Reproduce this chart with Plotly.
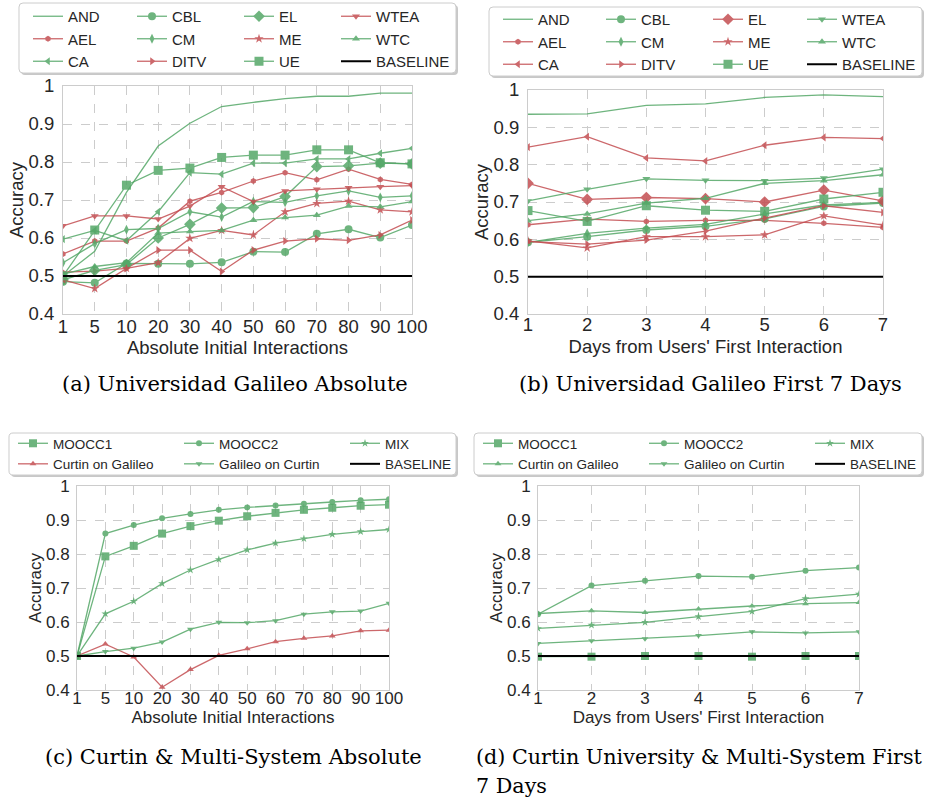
import plotly.graph_objects as go

W, H = 928, 800
SANS = "Liberation Sans"
SERIF = "DejaVu Serif"
GREEN = "#55a868"
RED = "#c44e52"

# ---------------- data ----------------
ABS_X = ["1", "5", "10", "20", "30", "40", "50", "60", "70", "80", "90", "100"]
DAY_X = [1, 2, 3, 4, 5, 6, 7]
BASELINE = 0.5
Y_TICKS = [0.4, 0.5, 0.6, 0.7, 0.8, 0.9, 1.0]

# (a) Universidad Galileo Absolute
AND_A = [0.500, 0.565, 0.720, 0.842, 0.902, 0.946, 0.957, 0.967, 0.973, 0.973, 0.981, 0.981]
AEL_A = [0.558, 0.592, 0.592, 0.626, 0.697, 0.720, 0.750, 0.772, 0.753, 0.781, 0.754, 0.741]
CA_A = [0.597, 0.620, 0.593, 0.669, 0.772, 0.768, 0.797, 0.797, 0.808, 0.808, 0.823, 0.836]
CBL_A = [0.485, 0.482, 0.533, 0.532, 0.532, 0.536, 0.564, 0.563, 0.611, 0.623, 0.601, 0.634]
CM_A = [0.535, 0.585, 0.622, 0.625, 0.669, 0.655, 0.696, 0.694, 0.711, 0.724, 0.707, 0.711]
DITV_A = [0.510, 0.513, 0.520, 0.568, 0.568, 0.512, 0.568, 0.592, 0.598, 0.594, 0.608, 0.647]
EL_A = [0.490, 0.515, 0.530, 0.600, 0.636, 0.679, 0.680, 0.709, 0.788, 0.790, 0.797, 0.795]
ME_A = [0.490, 0.467, 0.520, 0.535, 0.599, 0.620, 0.608, 0.669, 0.691, 0.697, 0.674, 0.669]
UE_A = [0.500, 0.621, 0.739, 0.778, 0.784, 0.812, 0.818, 0.818, 0.832, 0.832, 0.798, 0.795]
WTEA_A = [0.632, 0.658, 0.658, 0.650, 0.684, 0.735, 0.696, 0.724, 0.728, 0.732, 0.735, 0.738]
WTC_A = [0.505, 0.525, 0.535, 0.613, 0.617, 0.620, 0.647, 0.654, 0.660, 0.684, 0.682, 0.696]

# (b) Universidad Galileo First 7 Days
AND_B = [0.935, 0.936, 0.959, 0.963, 0.980, 0.987, 0.982]
AEL_B = [0.639, 0.654, 0.648, 0.651, 0.651, 0.643, 0.632]
CA_B = [0.847, 0.875, 0.818, 0.810, 0.852, 0.873, 0.870]
CBL_B = [0.592, 0.607, 0.625, 0.635, 0.655, 0.688, 0.697]
CM_B = [0.592, 0.616, 0.630, 0.640, 0.668, 0.692, 0.699]
DITV_B = [0.594, 0.587, 0.598, 0.622, 0.657, 0.690, 0.672]
EL_B = [0.750, 0.707, 0.712, 0.709, 0.700, 0.732, 0.703]
ME_B = [0.596, 0.577, 0.607, 0.607, 0.612, 0.663, 0.638]
UE_B = [0.677, 0.648, 0.690, 0.678, 0.675, 0.708, 0.726]
WTEA_B = [0.703, 0.734, 0.762, 0.758, 0.757, 0.764, 0.788]
WTC_B = [0.650, 0.668, 0.697, 0.710, 0.750, 0.757, 0.773]

# (c) Curtin & Multi-System Absolute
MOOCC1_C = [0.500, 0.793, 0.824, 0.860, 0.882, 0.898, 0.911, 0.921, 0.930, 0.936, 0.942, 0.945]
MOOCC2_C = [0.500, 0.860, 0.885, 0.905, 0.918, 0.930, 0.937, 0.943, 0.948, 0.953, 0.958, 0.961]
MIX_C = [0.500, 0.624, 0.661, 0.713, 0.753, 0.784, 0.812, 0.832, 0.845, 0.858, 0.866, 0.872]
COG_C = [0.500, 0.535, 0.497, 0.408, 0.460, 0.502, 0.521, 0.542, 0.552, 0.559, 0.574, 0.576]
GOC_C = [0.500, 0.513, 0.523, 0.541, 0.579, 0.599, 0.598, 0.604, 0.623, 0.630, 0.632, 0.655]

# (d) Curtin University & Multi-System First 7 Days
MOOCC1_D = [0.498, 0.498, 0.500, 0.500, 0.498, 0.500, 0.500]
MOOCC2_D = [0.623, 0.707, 0.721, 0.735, 0.733, 0.751, 0.760]
MIX_D = [0.581, 0.591, 0.599, 0.616, 0.631, 0.669, 0.682]
COG_D = [0.625, 0.633, 0.628, 0.638, 0.647, 0.654, 0.657]
GOC_D = [0.537, 0.545, 0.551, 0.560, 0.571, 0.568, 0.571]

# ---------------- styles ----------------
SYM = {
    "AND": (None, 0), "AEL": ("hexagon", 6), "CA": ("triangle-left", 7),
    "CBL": ("circle", 8), "CM": ("diamond-tall", 7), "DITV": ("triangle-right", 7),
    "EL": ("diamond", 9), "ME": ("star", 7), "UE": ("square", 9),
    "WTEA": ("triangle-down", 7), "WTC": ("triangle-up", 7),
    "MOOCC1": ("square", 8), "MOOCC2": ("circle", 6), "MIX": ("star", 6),
    "Curtin on Galileo": ("triangle-up", 6), "Galileo on Curtin": ("triangle-down", 6),
}


def PX(x):
    return x / W


def PY(y):
    return 1 - y / H


fig = go.Figure()
legend_count = [0]


def add_series(x, y, name, color, xa, ya, legend_id):
    sym, size = SYM[name]
    if sym is None:
        mode = "lines"
        marker = None
    else:
        mode = "lines+markers"
        marker = dict(symbol=sym, size=size, color=color)
    fig.add_trace(go.Scatter(
        x=x, y=y, name=name, mode=mode, marker=marker,
        line=dict(color=color, width=1.3), opacity=0.85,
        xaxis=xa, yaxis=ya, legend=legend_id, hoverinfo="x+y+name"))


def add_baseline(x, xa, ya, legend_id):
    fig.add_trace(go.Scatter(
        x=x, y=[BASELINE] * len(x), name="BASELINE", mode="lines",
        line=dict(color="black", width=2), xaxis=xa, yaxis=ya,
        legend=legend_id))


def legend_name(i):
    return "legend" if i == 1 else "legend%d" % i


layout_legends = {}


def make_legends(col_text_px, top_px, size):
    ids = []
    for xt in col_text_px:
        legend_count[0] += 1
        lid = legend_name(legend_count[0])
        layout_legends[lid] = dict(
            x=PX(xt - 40), y=min(1.0, PY(top_px)), xanchor="left", yanchor="top",
            orientation="v", bgcolor="rgba(0,0,0,0)", borderwidth=0,
            font=dict(family=SANS, size=size, color="#262626"),
            tracegroupgap=0, itemclick=False, itemdoubleclick=False)
        ids.append(lid)
    return ids


# panel (a)
names_ab = ["AND", "AEL", "CA", "CBL", "CM", "DITV", "EL", "ME", "UE", "WTEA", "WTC"]
vals_a = [AND_A, AEL_A, CA_A, CBL_A, CM_A, DITV_A, EL_A, ME_A, UE_A, WTEA_A, WTC_A]
cols_a = [GREEN, RED, GREEN, GREEN, GREEN, RED, GREEN, RED, GREEN, RED, GREEN]
leg_a = make_legends([68, 172, 279, 376], 0, 15)
for i, (n, v, c) in enumerate(zip(names_ab, vals_a, cols_a)):
    add_series(ABS_X, v, n, c, "x", "y", leg_a[i // 3])
add_baseline(ABS_X, "x", "y", leg_a[3])

# panel (b)
vals_b = [AND_B, AEL_B, CA_B, CBL_B, CM_B, DITV_B, EL_B, ME_B, UE_B, WTEA_B, WTC_B]
cols_b = [GREEN, RED, RED, GREEN, GREEN, RED, RED, RED, GREEN, GREEN, GREEN]
leg_b = make_legends([538, 641, 748, 842], 3, 15)
for i, (n, v, c) in enumerate(zip(names_ab, vals_b, cols_b)):
    add_series(DAY_X, v, n, c, "x2", "y2", leg_b[i // 3])
add_baseline(DAY_X, "x2", "y2", leg_b[3])

# panel (c)
names_cd = ["MOOCC1", "Curtin on Galileo", "MOOCC2", "Galileo on Curtin", "MIX"]
vals_c = [MOOCC1_C, COG_C, MOOCC2_C, GOC_C, MIX_C]
cols_c = [GREEN, RED, GREEN, GREEN, GREEN]
leg_c = make_legends([53, 219, 385], 428, 13.5)
for i, (n, v, c) in enumerate(zip(names_cd, vals_c, cols_c)):
    add_series(ABS_X, v, n, c, "x3", "y3", leg_c[i // 2])
add_baseline(ABS_X, "x3", "y3", leg_c[2])

# panel (d)
vals_d = [MOOCC1_D, COG_D, MOOCC2_D, GOC_D, MIX_D]
cols_d = [GREEN, GREEN, GREEN, GREEN, GREEN]
leg_d = make_legends([518, 684, 850], 428, 13.5)
for i, (n, v, c) in enumerate(zip(names_cd, vals_d, cols_d)):
    add_series(DAY_X, v, n, c, "x4", "y4", leg_d[i // 2])
add_baseline(DAY_X, "x4", "y4", leg_d[2])


# ---------------- axes ----------------
def xax(dom, title, tsize, rng, cat, anchor, tstand, standoff):
    d = dict(domain=[PX(dom[0]), PX(dom[1])], anchor=anchor, range=rng,
             automargin=False,
             showgrid=True, gridcolor="#cccccc", griddash="dash", gridwidth=1,
             showline=True, mirror=True, linecolor="#cccccc", linewidth=1,
             zeroline=False, ticks="", ticklen=0, ticklabelstandoff=tstand,
             tickfont=dict(family=SANS, size=tsize, color="#262626"),
             title=dict(text=title, standoff=standoff,
                        font=dict(family=SANS, size=tsize, color="#262626")))
    if cat:
        d["type"] = "category"
    else:
        d["dtick"] = 1
        d["tick0"] = 1
    return d


def yax(dom, tsize, anchor, tstand, standoff):
    return dict(domain=[PY(dom[1]), PY(dom[0])], anchor=anchor,
                automargin=False,
                range=[0.4, 1.0], tickvals=Y_TICKS,
                showgrid=True, gridcolor="#cccccc", griddash="dash", gridwidth=1,
                showline=True, mirror=True, linecolor="#cccccc", linewidth=1,
                zeroline=False, ticks="", ticklen=0, ticklabelstandoff=tstand,
                tickfont=dict(family=SANS, size=tsize, color="#262626"),
                title=dict(text="Accuracy", standoff=standoff,
                           font=dict(family=SANS, size=tsize, color="#262626")))


def rrect(x0, y0, x1, y1, r=4):
    p = "M %f,%f " % (PX(x0 + r), PY(y0))
    p += "L %f,%f " % (PX(x1 - r), PY(y0))
    p += "Q %f,%f %f,%f " % (PX(x1), PY(y0), PX(x1), PY(y0 + r))
    p += "L %f,%f " % (PX(x1), PY(y1 - r))
    p += "Q %f,%f %f,%f " % (PX(x1), PY(y1), PX(x1 - r), PY(y1))
    p += "L %f,%f " % (PX(x0 + r), PY(y1))
    p += "Q %f,%f %f,%f " % (PX(x0), PY(y1), PX(x0), PY(y1 - r))
    p += "L %f,%f " % (PX(x0), PY(y0 + r))
    p += "Q %f,%f %f,%f Z" % (PX(x0), PY(y0), PX(x0 + r), PY(y0))
    return p


shapes = []
for (x0, y0, x1, y1) in [(19, 3, 456, 73), (489, 7, 922, 76), (9, 433, 456, 475), (474, 433, 922, 475)]:
    shapes.append(dict(type="path", xref="paper", yref="paper", path=rrect(x0 + 2, y0 + 2, x1 + 2, y1 + 2),
                       line=dict(color="rgba(0,0,0,0)", width=0), fillcolor="#c8c8c8", layer="below"))
    shapes.append(dict(type="path", xref="paper", yref="paper", path=rrect(x0, y0, x1, y1),
                       line=dict(color="#cccccc", width=1), fillcolor="white", layer="below"))


def cap(text, xpx, ypx, xanchor="center", size=21):
    return dict(text=text, x=PX(xpx), y=PY(ypx), xref="paper", yref="paper",
                xanchor=xanchor, yanchor="middle", showarrow=False,
                font=dict(family=SERIF, size=size, color="black"))


annotations = [
    cap("(a) Universidad Galileo Absolute", 235, 384),
    cap("(b) Universidad Galileo First 7 Days", 710, 384),
    cap("(c) Curtin &amp; Multi-System Absolute", 233, 757),
    cap("(d) Curtin University &amp; Multi-System First", 474, 757, "left", 20.7),
    cap("7 Days", 474, 786, "left", 20.7),
]

fig.update_layout(
    width=W, height=H, autosize=False,
    margin=dict(l=0, r=0, t=0, b=0, pad=0),
    paper_bgcolor="white", plot_bgcolor="white",
    showlegend=True,
    xaxis=xax((63, 412), "Absolute Initial Interactions", 18.5, [0, 11], True, "y", -4, 1),
    yaxis=yax((86, 314), 18.5, "x", 4, 0),
    xaxis2=xax((528, 883), "Days from Users' First Interaction", 18.5, [1, 7], False, "y2", -6, 5),
    yaxis2=yax((90, 314), 18.5, "x2", 4, 0),
    xaxis3=xax((77, 389), "Absolute Initial Interactions", 17, [0, 11], True, "y3", -7, 2),
    yaxis3=yax((486, 690), 17, "x3", 3, 0),
    xaxis4=xax((538, 859), "Days from Users' First Interaction", 17, [1, 7], False, "y4", -7, 2),
    yaxis4=yax((486, 690), 17, "x4", 3, 0),
    shapes=shapes,
    annotations=annotations,
    **layout_legends,
)

# remove the browser's default 8px body margin so the 928x800 figure fills the window
fig.write_html("out.html", config={"displayModeBar": False},
               post_script="document.body.style.margin='0px';")
